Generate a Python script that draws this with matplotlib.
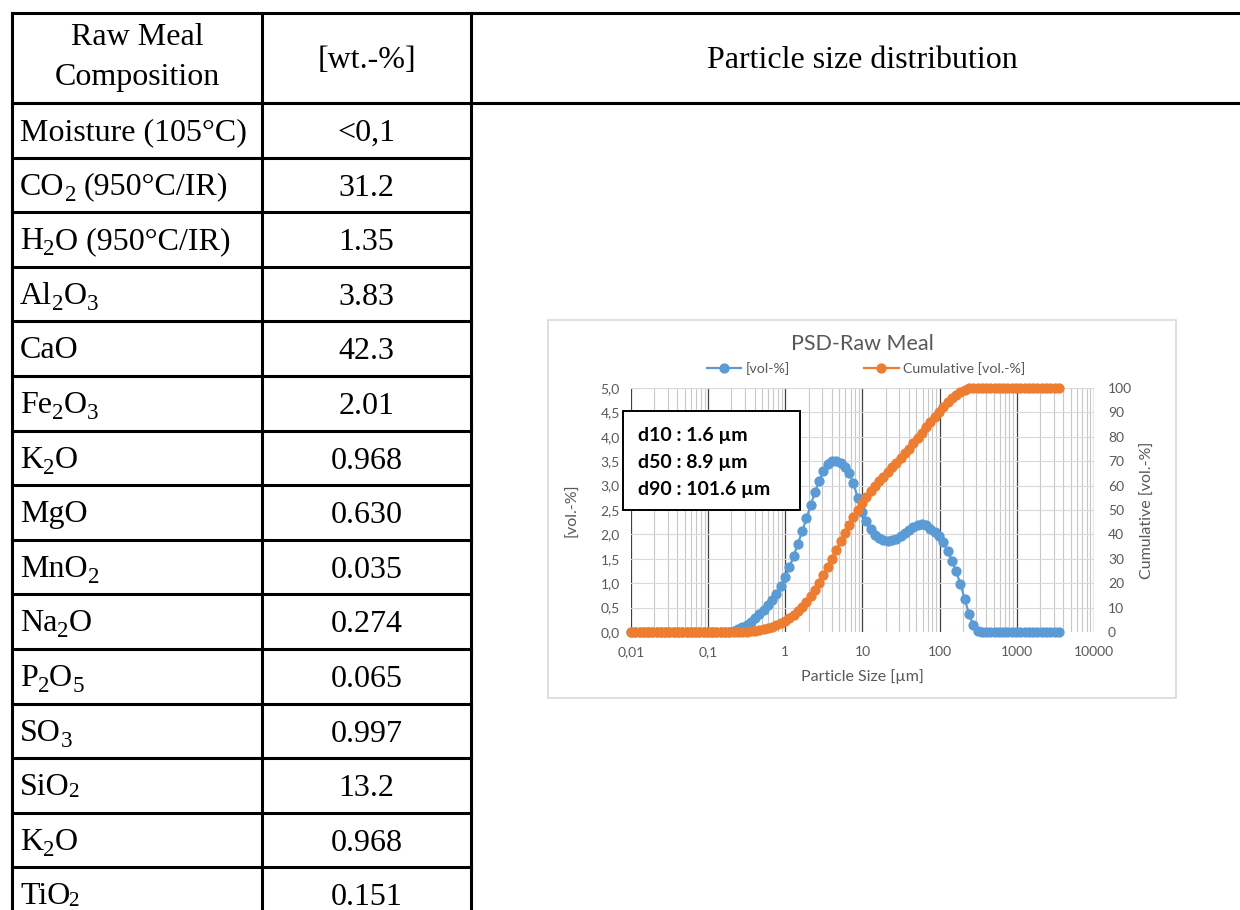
import re
import matplotlib
matplotlib.use("Agg")
import matplotlib.pyplot as plt
from matplotlib.patches import Rectangle
from matplotlib.lines import Line2D

# raw meal composition table ($_x$ dropped subscript, $_{x}$ small subscript)
components = ["Moisture (105°C)", r"CO$_2$ (950°C/IR)", r"H$_2$O (950°C/IR)",
              r"Al$_2$O$_3$", "CaO", r"Fe$_2$O$_3$", r"K$_2$O", "MgO",
              r"MnO$_2$", r"Na$_2$O", r"P$_2$O$_5$", r"SO$_3$", r"SiO$_{2}$",
              r"K$_2$O", r"TiO$_{2}$"]
wt_pct = ["<0,1", "31.2", "1.35", "3.83", "42.3", "2.01", "0.968", "0.630",
          "0.035", "0.274", "0.065", "0.997", "13.2", "0.968", "0.151"]

# particle size classes [µm]
size_um = [0.0100, 0.0114, 0.0129, 0.0147, 0.0167, 0.0189, 0.0215, 0.0244, 0.0278, 0.0315,
           0.0358, 0.0407, 0.0463, 0.0526, 0.0597, 0.0679, 0.0771, 0.0876, 0.0995, 0.113,
           0.128, 0.146, 0.166, 0.188, 0.214, 0.243, 0.276, 0.314, 0.357, 0.405,
           0.460, 0.523, 0.594, 0.675, 0.767, 0.872, 0.991, 1.13, 1.28, 1.45,
           1.65, 1.88, 2.13, 2.42, 2.75, 3.12, 3.55, 4.03, 4.58, 5.21,
           5.92, 6.72, 7.64, 8.68, 9.86, 11.2, 12.7, 14.5, 16.4, 18.7,
           21.2, 24.1, 27.4, 31.1, 35.3, 40.1, 45.6, 51.8, 58.9, 66.9,
           76.0, 86.4, 98.1, 111, 127, 144, 163, 186, 211, 240,
           272, 310, 352, 400, 454, 516, 586, 666, 756, 859,
           976, 1110, 1260, 1430, 1630, 1850, 2100, 2390, 2710, 3080, 3500]
vol_pct = [0, 0, 0, 0, 0, 0, 0, 0, 0, 0,
           0, 0, 0, 0, 0, 0, 0, 0, 0, 0,
           0, 0, 0, 0.01, 0.03, 0.06, 0.10, 0.15, 0.21, 0.28,
           0.36, 0.45, 0.55, 0.66, 0.78, 0.94, 1.12, 1.33, 1.55, 1.80,
           2.06, 2.33, 2.60, 2.86, 3.10, 3.30, 3.44, 3.51, 3.51, 3.46,
           3.38, 3.25, 3.05, 2.74, 2.46, 2.27, 2.11, 1.99, 1.92, 1.88,
           1.87, 1.88, 1.91, 1.96, 2.02, 2.09, 2.15, 2.20, 2.22, 2.19,
           2.12, 2.04, 1.96, 1.84, 1.66, 1.46, 1.25, 0.98, 0.68, 0.36,
           0.14, 0.03, 0, 0, 0, 0, 0, 0, 0, 0,
           0, 0, 0, 0, 0, 0, 0, 0, 0, 0, 0]
cum_pct = [0, 0, 0, 0, 0, 0, 0, 0, 0, 0,
           0, 0, 0, 0, 0, 0, 0, 0, 0, 0,
           0, 0, 0, 0, 0.01, 0.04, 0.10, 0.20, 0.35, 0.56,
           0.84, 1.20, 1.65, 2.20, 2.86, 3.64, 4.58, 5.70, 7.03, 8.58,
           10.4, 12.4, 14.8, 17.4, 20.2, 23.3, 26.6, 30.1, 33.6, 37.1,
           40.6, 43.9, 47.2, 50.2, 53.0, 55.4, 57.7, 59.8, 61.8, 63.7,
           65.6, 67.5, 69.4, 71.3, 73.2, 75.2, 77.3, 79.5, 81.7, 83.9,
           86.1, 88.2, 90.3, 92.2, 94.1, 95.7, 97.2, 98.2, 99.2, 99.8,
           100, 100, 100, 100, 100, 100, 100, 100, 100, 100,
           100, 100, 100, 100, 100, 100, 100, 100, 100, 100, 100]

x_ticks = [0.01, 0.1, 1, 10, 100, 1000, 10000]
x_labels = ["0,01", "0,1", "1", "10", "100", "1000", "10000"]
y_ticks = [0, 0.5, 1.0, 1.5, 2.0, 2.5, 3.0, 3.5, 4.0, 4.5, 5.0]
y_labels = ["0,0", "0,5", "1,0", "1,5", "2,0", "2,5", "3,0", "3,5", "4,0", "4,5", "5,0"]
y2_ticks = [0, 10, 20, 30, 40, 50, 60, 70, 80, 90, 100]
d_values = ["d10 : 1.6 µm", "d50 : 8.9 µm", "d90 : 101.6 µm"]

W, H = 1240, 910
fig = plt.figure(figsize=(W / 100, H / 100), dpi=100)
renderer = fig.canvas.get_renderer()

# table drawn in pixel coordinates
tab = fig.add_axes([0, 0, 1, 1])
tab.set_xlim(0, W)
tab.set_ylim(H, 0)
tab.axis("off")

lw = 2.2
serif = "Liberation Serif"
fs = 23
row_h = 54.6
head_bottom = 103


def formula(x, y, label):
    # chemical formula drawn piece by piece so subscripts can hang low
    parts = re.split(r"\$_(\{?.\}?)\$", label)
    for k, part in enumerate(parts):
        if not part:
            continue
        if k % 2 == 0:
            if part.startswith(" "):
                x += 0.25 * fs * 100 / 72
                part = part.lstrip()
            t = tab.text(x, y, part, ha="left", va="baseline", fontsize=fs, family=serif)
        elif part.startswith("{"):
            x -= 2
            t = tab.text(x, y + 2, part.strip("{}"), ha="left", va="baseline",
                         fontsize=fs * 0.66, family=serif)
        else:
            t = tab.text(x, y + 6, part, ha="left", va="baseline", fontsize=fs * 0.72, family=serif)
        x += t.get_window_extent(renderer).width


tab.plot([12, W], [13, 13], color="black", lw=lw, solid_capstyle="projecting")
tab.plot([12, W], [head_bottom, head_bottom], color="black", lw=lw, solid_capstyle="projecting")
for xv in [12, 262, 471]:
    tab.plot([xv, xv], [13, H + 5], color="black", lw=lw, solid_capstyle="projecting")
for i in range(1, len(components)):
    y = head_bottom + i * row_h
    tab.plot([12, 471], [y, y], color="black", lw=lw, solid_capstyle="projecting")

tab.text(137, 45, "Raw Meal", ha="center", va="baseline", fontsize=fs, family=serif)
tab.text(137, 85, "Composition", ha="center", va="baseline", fontsize=fs, family=serif)
tab.text(366.5, 68, "[wt.-%]", ha="center", va="baseline", fontsize=fs, family=serif)
tab.text(862, 68, "Particle size distribution", ha="center", va="baseline", fontsize=fs, family=serif)

for i, (name, val) in enumerate(zip(components, wt_pct)):
    top = head_bottom + i * row_h
    formula(20, top + 37, name)
    tab.text(366.5, top + 38, val, ha="center", va="baseline", fontsize=fs, family=serif)

# chart frame
tab.add_patch(Rectangle((548, 320), 628, 378, fill=False, edgecolor="#d9d9d9", lw=1.2))

gray = "#595959"
sans = "Lato"
blue = "#5b9bd5"
orange = "#ed7d31"
ms = 6.4
tick_fs = 10

x0, x1, y0, y1 = 631, 1094, 388, 632
ax = fig.add_axes([x0 / W, 1 - y1 / H, (x1 - x0) / W, (y1 - y0) / H])
ax.set_xscale("log")
ax.set_xlim(0.01, 10000)
ax.set_ylim(0, 5)
ax.set_xticks(x_ticks)
ax.set_xticklabels(x_labels)
ax.set_xticks([m * 10.0 ** e for e in range(-2, 4) for m in range(2, 10)], minor=True)
ax.set_yticks(y_ticks)
ax.set_yticklabels(y_labels)
ax.tick_params(which="both", length=0, colors=gray, labelsize=tick_fs)
ax.tick_params(axis="y", pad=8)
ax.tick_params(axis="x", pad=10)
for lab in ax.get_xticklabels() + ax.get_yticklabels():
    lab.set_family(sans)
ax.grid(True, which="minor", axis="x", color="#c8c8c8", lw=0.8)
ax.grid(True, which="major", axis="x", color="#404040", lw=0.9)
ax.grid(True, which="major", axis="y", color="#d9d9d9", lw=0.8)
ax.set_axisbelow(True)
for s in ax.spines.values():
    s.set_visible(False)
ax.plot(size_um, vol_pct, color=blue, lw=1.6, marker="o", ms=ms, clip_on=False)

ax2 = ax.twinx()
ax2.set_ylim(0, 100)
ax2.set_yticks(y2_ticks)
ax2.tick_params(length=0, colors=gray, labelsize=tick_fs, pad=10)
for lab in ax2.get_yticklabels():
    lab.set_family(sans)
for s in ax2.spines.values():
    s.set_visible(False)
ax2.plot(size_um, cum_pct, color=orange, lw=1.6, marker="o", ms=ms, clip_on=False)

# titles and labels
tab.text(862, 344, "PSD-Raw Meal", ha="center", va="center", fontsize=15.5, color=gray, family=sans)
tab.text(862, 677, "Particle Size [µm]", ha="center", va="center", fontsize=11.5, color=gray, family=sans)
tab.text(572, 510, "[vol.-%]", ha="center", va="center", rotation=90, fontsize=11.5, color=gray, family=sans)
tab.text(1148, 510, "Cumulative [vol.-%]", ha="center", va="center", rotation=90, fontsize=11.5, color=gray, family=sans)

handles = [Line2D([], [], color=blue, lw=1.6, marker="o", ms=ms),
           Line2D([], [], color=orange, lw=1.6, marker="o", ms=ms)]
leg = fig.legend(handles, ["[vol-%]", "Cumulative [vol.-%]"], loc="center",
                 bbox_to_anchor=(866 / W, 1 - 369 / H), ncol=2, frameon=False,
                 prop={"family": sans, "size": 10.3}, handlelength=2.4,
                 handletextpad=0.3, columnspacing=5.2)
for t in leg.get_texts():
    t.set_color(gray)

# d-values box
box = Rectangle((623, 411), 177, 99, transform=tab.transData, facecolor="white",
                edgecolor="black", lw=1.4, zorder=10, clip_on=False)
ax2.add_artist(box)
for k, s in enumerate(d_values):
    ax2.text(638, 436 + k * 26.5, s, transform=tab.transData, ha="left", va="center",
             fontsize=14, fontweight="bold", family=sans, zorder=11, clip_on=False)

fig.savefig("out.png", dpi=100, facecolor="white")
